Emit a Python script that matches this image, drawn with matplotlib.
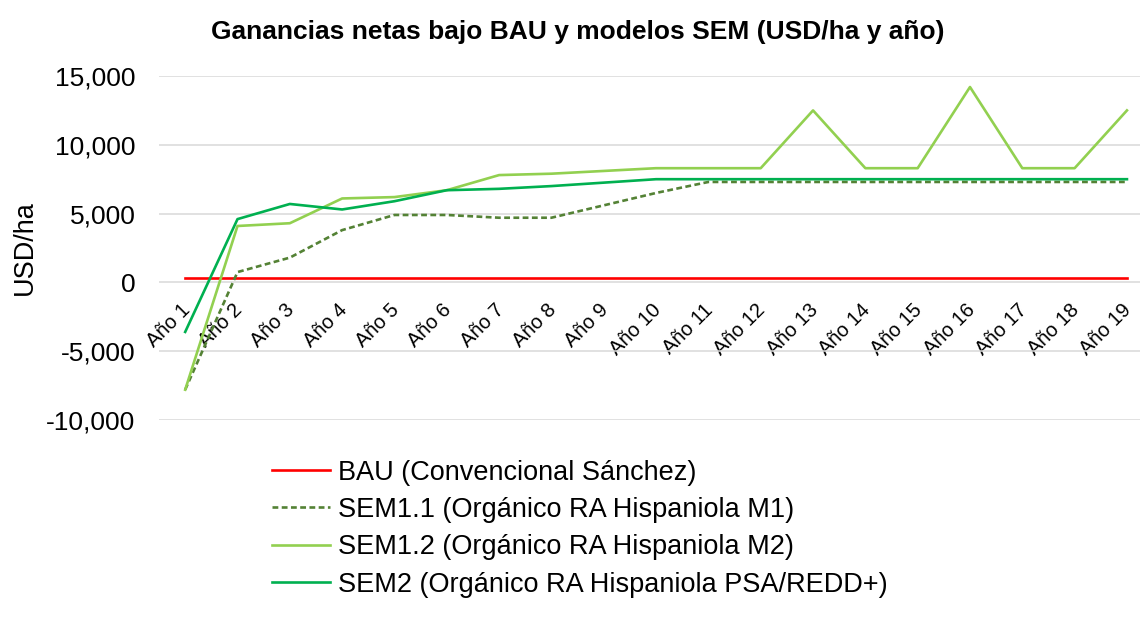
import matplotlib.pyplot as plt
from matplotlib.ticker import FuncFormatter
from matplotlib.transforms import ScaledTranslation

plt.rcParams['font.family'] = ['Liberation Sans', 'DejaVu Sans']

# Datos (USD/ha y año)
years = ["Año %d" % i for i in range(1, 20)]
bau = [350] * 19
sem11 = [-7800, 750, 1800, 3800, 4900, 4900, 4700, 4700, 5600, 6500,
         7300, 7300, 7300, 7300, 7300, 7300, 7300, 7300, 7300]
sem12 = [-7800, 4100, 4300, 6100, 6200, 6700, 7800, 7900, 8100, 8300,
         8300, 8300, 12500, 8300, 8300, 14200, 8300, 8300, 12500]
sem2 = [-3600, 4600, 5700, 5300, 5900, 6700, 6800, 7000, 7250, 7500,
        7500, 7500, 7500, 7500, 7500, 7500, 7500, 7500, 7500]

labels = ["BAU (Convencional Sánchez)",
          "SEM1.1 (Orgánico RA Hispaniola M1)",
          "SEM1.2 (Orgánico RA Hispaniola M2)",
          "SEM2 (Orgánico RA Hispaniola PSA/REDD+)"]

fig = plt.figure(figsize=(11.4, 6.21), dpi=100)
ax = fig.add_axes([0.1395, 0.3237, 0.872, 0.5539])

x = list(range(len(years)))
ax.plot(x, bau, color="#FF0000", lw=1.9, label=labels[0])
ax.plot(x, sem11, color="#548235", lw=1.9, dashes=[2.2, 1.3], label=labels[1])
ax.plot(x, sem12, color="#92D050", lw=1.9, label=labels[2])
ax.plot(x, sem2, color="#00B050", lw=1.9, label=labels[3])

ax.set_xlim(-0.5, len(years) - 0.5)
ax.set_ylim(-10000, 15000)
ax.set_yticks(range(-10000, 15001, 5000))
ax.yaxis.set_major_formatter(FuncFormatter(lambda v, p: "{:,.0f}".format(v)))
ax.grid(axis="y", color="#D9D9D9", lw=1.1)
ax.set_axisbelow(True)

# eje de categorías cruzando en 0
ax.spines["bottom"].set_position(("data", 0))
for s in ["top", "right", "left", "bottom"]:
    ax.spines[s].set_visible(False)
ax.set_xticks(x)
ax.set_xticklabels(years, rotation=45, ha="right", rotation_mode="anchor", fontsize=14.5)
ax.tick_params(axis="x", length=0, pad=13)
ax.tick_params(axis="y", length=0, labelsize=19, pad=17, colors="#000000")
shift = ScaledTranslation(-5 / 100, 0, fig.dpi_scale_trans)
for lab in ax.get_xticklabels():
    lab.set_transform(lab.get_transform() + shift)

ax.set_ylabel("USD/ha", fontsize=19.5, labelpad=6)
fig.text(0.507, 0.948, "Ganancias netas bajo BAU y modelos SEM (USD/ha y año)",
         ha="center", va="center", fontsize=19, fontweight="bold")

fig.legend(loc="upper left", bbox_to_anchor=(0.2386, 0.26), frameon=False,
           fontsize=19.5, borderpad=0, borderaxespad=0, labelspacing=0.42,
           handlelength=2.15, handletextpad=0.3)

fig.savefig("out.png", dpi=100)
